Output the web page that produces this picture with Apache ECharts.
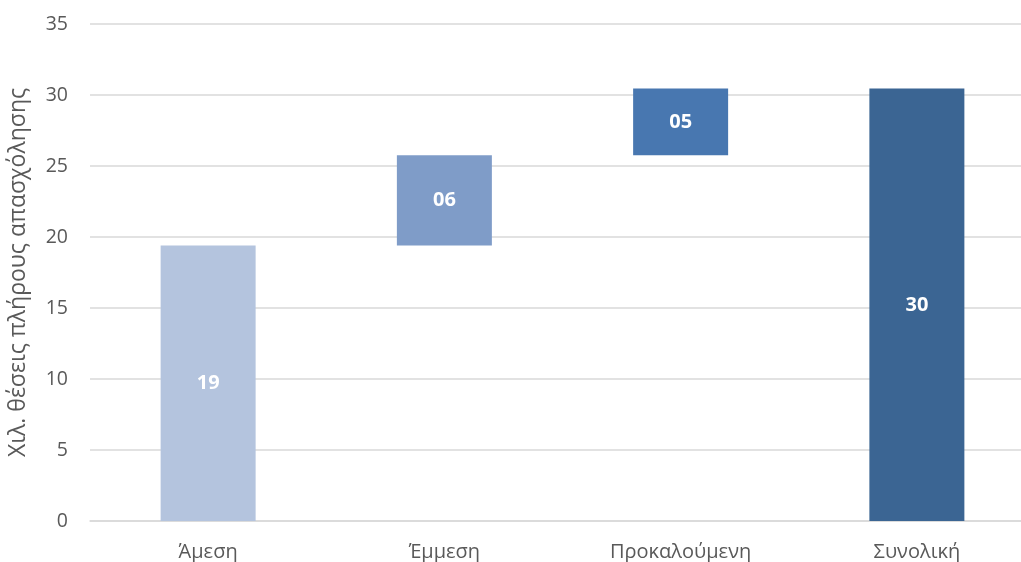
<!DOCTYPE html>
<html>
<head>
<meta charset="utf-8">
<script src="https://cdn.jsdelivr.net/npm/echarts@6/dist/echarts.min.js"></script>
<style>
  html, body { margin: 0; padding: 0; background: #fff; }
  #chart { width: 1021px; height: 562px; }
</style>
</head>
<body>
<div id="chart"></div>
<script>
// Employment impact, thousand full-time jobs
const categories = ['Άμεση', 'Έμμεση', 'Προκαλούμενη', 'Συνολική'];
const components = [19.4, 6.35, 4.7];           // direct, indirect, induced
const barColors = ['#B4C4DE', '#7F9CC8', '#4877B0', '#3B6593'];
const yTicks = { min: 0, max: 35, interval: 5 };
const axisTitle = 'Χιλ. θέσεις πλήρους απασχόλησης';

// Waterfall: each step rests on the running sum of the previous ones; the last bar is the total
const total = components.reduce((a, b) => a + b, 0);
const values = components.concat([total]);
const bases = [];
let running = 0;
components.forEach(v => { bases.push(running); running += v; });
bases.push(0);

const font = '"Open Sans", "Noto Sans", sans-serif';
const chart = echarts.init(document.getElementById('chart'), null, { renderer: 'canvas' });

chart.setOption({
  animation: false,
  backgroundColor: '#ffffff',
  // plot area runs past the right edge of the canvas
  grid: {
    left: 90, top: 24, width: 945, height: 497,
    containLabel: false,
    outerBoundsMode: 'none'
  },
  xAxis: {
    type: 'category',
    data: categories,
    axisLine: { lineStyle: { color: '#D9D9D9', width: 1.5 } },
    axisTick: { show: false },
    axisLabel: { color: '#595959', fontSize: 20, fontFamily: font, margin: 21 }
  },
  yAxis: {
    type: 'value',
    min: yTicks.min, max: yTicks.max, interval: yTicks.interval,
    name: axisTitle,
    nameLocation: 'middle',
    nameGap: 60,
    nameTextStyle: { color: '#595959', fontSize: 23, fontFamily: font },
    axisLine: { show: false },
    axisTick: { show: false },
    splitLine: { lineStyle: { color: '#D9D9D9', width: 1.5 } },
    axisLabel: { color: '#595959', fontSize: 19.5, fontFamily: font, margin: 22 }
  },
  series: [
    {
      type: 'bar',
      stack: 'wf',
      silent: true,
      barWidth: 95,
      itemStyle: { color: 'transparent' },
      data: bases
    },
    {
      type: 'bar',
      stack: 'wf',
      barWidth: 95,
      data: values.map((v, i) => ({ value: v, itemStyle: { color: barColors[i] } })),
      label: {
        show: true,
        position: 'inside',
        color: '#ffffff',
        fontWeight: 'bold',
        fontSize: 20,
        fontFamily: font,
        formatter: p => String(Math.round(p.value)).padStart(2, '0')
      }
    }
  ]
});
</script>
</body>
</html>
